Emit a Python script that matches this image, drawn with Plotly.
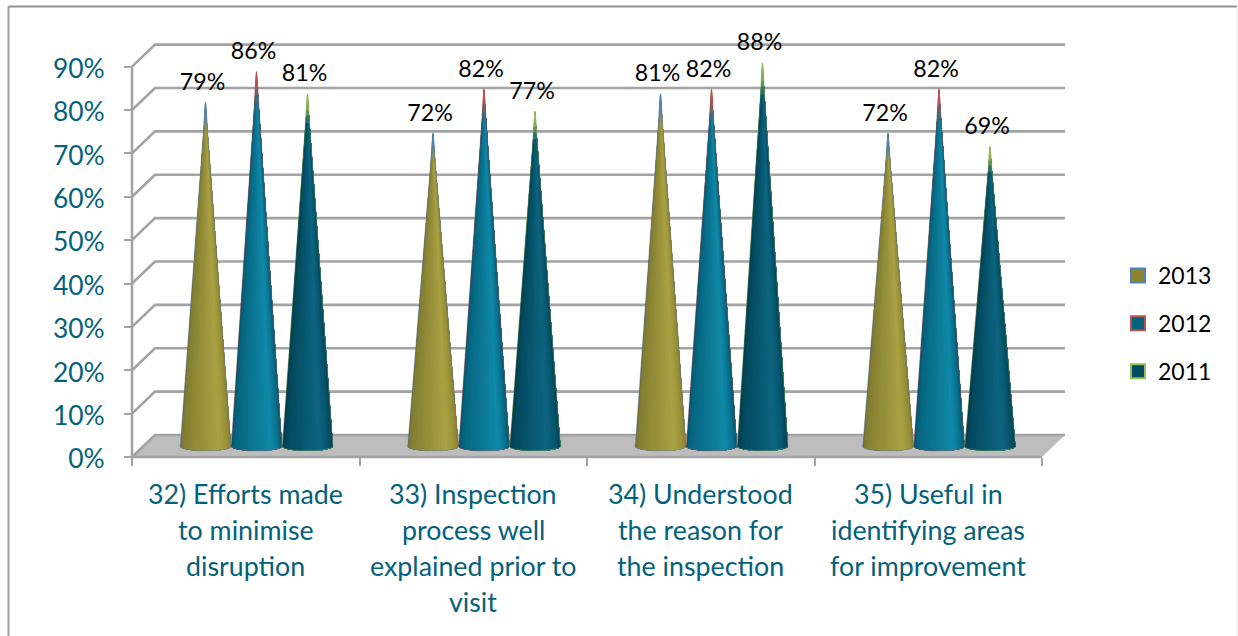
import math
import plotly.graph_objects as go

# ---------- data ----------
years = ["2013", "2012", "2011"]
values_2013 = [79, 72, 81, 72]
values_2012 = [86, 82, 82, 82]
values_2011 = [81, 77, 88, 69]
category_lines = [
    ["32) Efforts made", "to minimise", "disruption"],
    ["33) Inspection", "process well", "explained prior to", "visit"],
    ["34) Understood", "the reason for", "the inspection"],
    ["35) Useful in", "identifying areas", "for improvement"],
]
y_ticks = [0, 10, 20, 30, 40, 50, 60, 70, 80, 90]

# ---------- styles / layout constants ----------
W, H = 1238, 636
X0, UNIT = 132.0, 227.5      # pixel of category 0, pixels per category
Y0, PCT = 457.0, 4.337       # pixel of 0 %, pixels per percent
DX, DY = 23 / UNIT, 22 / PCT # oblique depth of the wall
FONT = "Lato"
FS_LABEL = 23.2
FS_TICK = 26.4
FS_CAT = 26.8
FS_LEG = 23
TEAL = "#04617B"
GRID = "#A3A3A3"
FLOOR = "#BDBDBD"
series_vals = [values_2013, values_2012, values_2011]
offsets = [73.5 / UNIT, 124.5 / UNIT, 175.5 / UNIT]
outline = ["#4F81BD", "#C0504D", "#9BBB59"]
legend_fill = ["#8E8230", "#04617B", "#024C63"]
shade_stops = [
    [(0, "#5f5c34"), (0.12, "#7f7a30"), (0.45, "#97903a"), (0.68, "#aaa244"), (0.9, "#8f8632"), (1, "#6f6a2c")],
    [(0, "#03455c"), (0.15, "#04617b"), (0.5, "#0b7a98"), (0.68, "#1089a8"), (0.88, "#04647f"), (1, "#034c63")],
    [(0, "#02303f"), (0.15, "#024458"), (0.5, "#085a74"), (0.65, "#0d6580"), (0.88, "#024a60"), (1, "#02384a")],
]
BASE_HW = 25.5 / UNIT
BASE_UP = 4.5 / PCT     # rim curvature
BASE_LOW = 6 / PCT      # lowest rim point above 0 %
TIP_SCALE = 1.0165
TIP_FADE = [(0.03, 0.9), (0.045, 0.6), (0.06, 0.4), (0.08, 0.25)]  # (share of the height, opacity)
N = 26

x_range = [-X0 / UNIT, (W - X0) / UNIT]
y_range = [(Y0 - H) / PCT, Y0 / PCT]


def mix(stops, t):
    for (a, ca), (b, cb) in zip(stops, stops[1:]):
        if a <= t <= b:
            f = (t - a) / (b - a)
            c = [round(int(ca[i:i + 2], 16) * (1 - f) + int(cb[i:i + 2], 16) * f) for i in (1, 3, 5)]
            return "rgb(%d,%d,%d)" % tuple(c)
    return stops[-1][1]


def rim(cx, a):
    return cx + BASE_HW * math.sin(a), BASE_LOW + BASE_UP * (1 - math.cos(a))


fig = go.Figure()


def line_trace(xs, ys, color=GRID, width=2.6):
    fig.add_trace(go.Scatter(x=xs, y=ys, mode="lines", line=dict(color=color, width=width),
                             hoverinfo="skip", showlegend=False))


# floor
n_cat = len(category_lines)
fig.add_trace(go.Scatter(x=[0, DX, n_cat + DX, n_cat, 0], y=[0, DY, DY, 0, 0], mode="lines",
                         fill="toself", fillcolor=FLOOR, line=dict(width=0),
                         hoverinfo="skip", showlegend=False))
# wall grid
gx, gy = [], []
for v in y_ticks:
    gx += [0, DX, n_cat + DX, None]
    gy += [v, v + DY, v + DY, None]
line_trace(gx, gy)
line_trace([0, 0], [0, y_ticks[-1]])
line_trace([0, n_cat], [0, 0])

# cones: painted left to right, each slice reaching the right edge, so no seams appear
for s, vals in enumerate(series_vals):
    for k in range(N):
        xs, ys = [], []
        for c, v in enumerate(vals):
            cx = c + offsets[s]
            tip = BASE_LOW + v * TIP_SCALE
            xs.append(cx); ys.append(tip)
            for j in range(k, N + 1):
                px, py = rim(cx, -math.pi / 2 + math.pi * j / N)
                xs.append(px); ys.append(py)
            xs += [cx, None]; ys += [tip, None]
        col = mix(shade_stops[s], (k + 0.5) / N)
        fig.add_trace(go.Scatter(x=xs, y=ys, mode="lines", fill="toself", fillcolor=col,
                                 line=dict(width=0), hoverinfo="skip", showlegend=False))
    # thin outline
    xs, ys = [], []
    for c, v in enumerate(vals):
        cx = c + offsets[s]
        tip = BASE_LOW + v * TIP_SCALE
        xs.append(cx); ys.append(tip)
        for j in range(N + 1):
            px, py = rim(cx, -math.pi / 2 + math.pi * j / N)
            xs.append(px); ys.append(py)
        xs += [cx, None]; ys += [tip, None]
    fig.add_trace(go.Scatter(x=xs, y=ys, mode="lines", line=dict(color=outline[s], width=1),
                             opacity=0.45, hoverinfo="skip", showlegend=False))
    # tips melt into the series' outline colour
    for part, alpha in TIP_FADE:
        tx, ty = [], []
        for c, v in enumerate(vals):
            cx = c + offsets[s]
            tip = BASE_LOW + v * TIP_SCALE
            d = BASE_HW * part
            low = tip - v * TIP_SCALE * part
            tx += [cx - d, cx, cx + d, cx - d, None]
            ty += [low, tip, low, low, None]
        fig.add_trace(go.Scatter(x=tx, y=ty, mode="lines", fill="toself", fillcolor=outline[s],
                                 line=dict(color=outline[s], width=1), opacity=alpha,
                                 hoverinfo="skip", showlegend=False))

# data labels
for s, vals in enumerate(series_vals):
    fig.add_trace(go.Scatter(
        x=[c + offsets[s] - 3 / UNIT for c in range(n_cat)],
        y=[BASE_LOW + v * TIP_SCALE + 7 / PCT for v in vals],
        text=["%d%%" % v for v in vals], mode="text", textposition="top center",
        textfont=dict(family=FONT, size=FS_LABEL, color="#000000"),
        hoverinfo="skip", showlegend=False))

# legend entries
for s, y in enumerate(years):
    fig.add_trace(go.Scatter(x=[None], y=[None], name=y, mode="markers", legendgroup=y,
                             marker=dict(symbol="square", size=14, color=legend_fill[s],
                                         line=dict(color=outline[s], width=2))))

# category labels (line spacing is wider than plotly's own <br>)
annotations = []
for c, lines in enumerate(category_lines):
    for j, t in enumerate(lines):
        annotations.append(dict(x=c + 0.5, y=-(37 + 36 * j) / PCT, text=t, showarrow=False,
                                xanchor="center", yanchor="middle",
                                font=dict(family=FONT, size=FS_CAT, color=TEAL)))

fig.update_layout(
    width=W, height=H, margin=dict(l=0, r=0, t=0, b=0, pad=0),
    paper_bgcolor="white", plot_bgcolor="white",
    font=dict(family=FONT, size=FS_LEG, color="#000000"),
    annotations=annotations,
    xaxis=dict(range=x_range, domain=[0, 1], anchor="free", position=(H - Y0) / H, showgrid=False,
               zeroline=False, showline=False, tickvals=list(range(n_cat + 1)),
               ticktext=[""] * (n_cat + 1), ticks="outside", ticklen=8, tickwidth=2, tickcolor=GRID),
    yaxis=dict(range=y_range, domain=[0, 1], anchor="free", position=X0 / W, showgrid=False,
               zeroline=False, showline=False, tickvals=y_ticks, ticktext=["%d%%" % v for v in y_ticks],
               ticks="outside", ticklen=8, tickwidth=2, tickcolor=GRID, ticklabelstandoff=14,
               ticklabelshift=2,
               tickfont=dict(family=FONT, size=FS_TICK, color=TEAL)),
    legend=dict(x=1118 / W, y=1 - 254 / H, xanchor="left", yanchor="top", traceorder="grouped",
                tracegroupgap=15, font=dict(family=FONT, size=FS_LEG, color="#000000"),
                bgcolor="rgba(0,0,0,0)", itemclick=False, itemdoubleclick=False),
    shapes=[
        dict(type="line", xref="paper", yref="paper", x0=8.5 / W, x1=8.5 / W, y0=0, y1=1 - 6.5 / H,
             line=dict(color="#A0A0A0", width=2), layer="below"),
        dict(type="line", xref="paper", yref="paper", x0=8.5 / W, x1=1237 / W, y0=1 - 6.5 / H, y1=1 - 6.5 / H,
             line=dict(color="#909090", width=2), layer="below"),
        dict(type="line", xref="paper", yref="paper", x0=1237 / W, x1=1237 / W, y0=0, y1=1 - 6.5 / H,
             line=dict(color="#E8E8E8", width=1), layer="below"),
    ],
    showlegend=True,
)

fig.write_html("out.html", config=dict(displayModeBar=False),
               post_script="document.body.style.margin='0';")
